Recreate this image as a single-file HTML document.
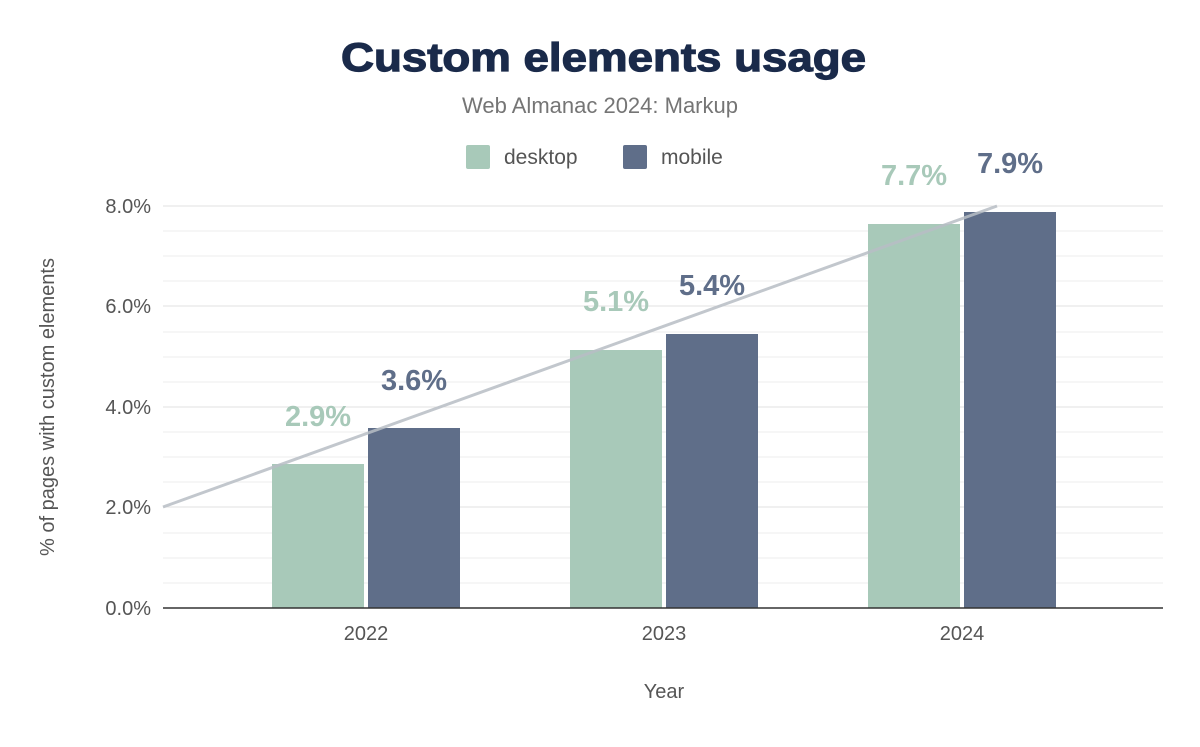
<!DOCTYPE html>
<html><head><style>
body{margin:0;background:#fff;}
</style></head><body>
<svg width="1200" height="742" xmlns="http://www.w3.org/2000/svg" font-family="Liberation Sans, Arial, sans-serif">
<rect width="1200" height="742" fill="#fff"/>
<text x="341" y="71" textLength="525" lengthAdjust="spacingAndGlyphs" font-size="40" font-weight="bold" fill="#1a2a4a" stroke="#1a2a4a" stroke-width="1.2">Custom elements usage</text>
<text x="600" y="113" text-anchor="middle" font-size="22" fill="#757575">Web Almanac 2024: Markup</text>
<rect x="466" y="145" width="24" height="24" rx="2" fill="#a8c9b9"/>
<text x="504" y="164" font-size="21" fill="#555">desktop</text>
<rect x="623" y="145" width="24" height="24" rx="2" fill="#5f6e89"/>
<text x="661" y="164" font-size="21" fill="#555">mobile</text>
<g stroke="#eeeeee" stroke-width="1">
<line x1="163" x2="1163" y1="583" y2="583"/><line x1="163" x2="1163" y1="558" y2="558"/><line x1="163" x2="1163" y1="533" y2="533"/>
<line x1="163" x2="1163" y1="482" y2="482"/><line x1="163" x2="1163" y1="457" y2="457"/><line x1="163" x2="1163" y1="432" y2="432"/>
<line x1="163" x2="1163" y1="382" y2="382"/><line x1="163" x2="1163" y1="357" y2="357"/><line x1="163" x2="1163" y1="332" y2="332"/>
<line x1="163" x2="1163" y1="281" y2="281"/><line x1="163" x2="1163" y1="256" y2="256"/><line x1="163" x2="1163" y1="231" y2="231"/>
</g>
<g stroke="#e2e2e2" stroke-width="1">
<line x1="163" x2="1163" y1="507" y2="507"/><line x1="163" x2="1163" y1="407" y2="407"/><line x1="163" x2="1163" y1="306" y2="306"/><line x1="163" x2="1163" y1="206" y2="206"/>
</g>
<g font-size="20" fill="#555" text-anchor="end">
<text x="151" y="615">0.0%</text><text x="151" y="514">2.0%</text><text x="151" y="414">4.0%</text><text x="151" y="313">6.0%</text><text x="151" y="213">8.0%</text>
</g>
<text transform="translate(54,407) rotate(-90)" text-anchor="middle" font-size="20" fill="#555">% of pages with custom elements</text>
<g fill="#a8c9b9">
<rect x="272" y="464" width="92" height="144"/><rect x="570" y="350" width="92" height="258"/><rect x="868" y="224" width="92" height="384"/>
</g>
<g fill="#5f6e89">
<rect x="368" y="428" width="92" height="180"/><rect x="666" y="334" width="92" height="274"/><rect x="964" y="212" width="92" height="396"/>
</g>
<line x1="163" y1="507" x2="997" y2="206" stroke="#b8bec5" stroke-width="3" opacity="0.85"/>
<line x1="163" x2="1163" y1="608" y2="608" stroke="#333" stroke-width="1.5"/>
<g font-size="29" font-weight="bold" text-anchor="middle">
<text x="318" y="426" fill="#a8c9b9">2.9%</text><text x="414" y="390" fill="#5f6e89">3.6%</text>
<text x="616" y="311" fill="#a8c9b9">5.1%</text><text x="712" y="295" fill="#5f6e89">5.4%</text>
<text x="914" y="185" fill="#a8c9b9">7.7%</text><text x="1010" y="173" fill="#5f6e89">7.9%</text>
</g>
<g font-size="20" fill="#555" text-anchor="middle">
<text x="366" y="640">2022</text><text x="664" y="640">2023</text><text x="962" y="640">2024</text>
<text x="664" y="698">Year</text>
</g>
</svg>
</body></html>
